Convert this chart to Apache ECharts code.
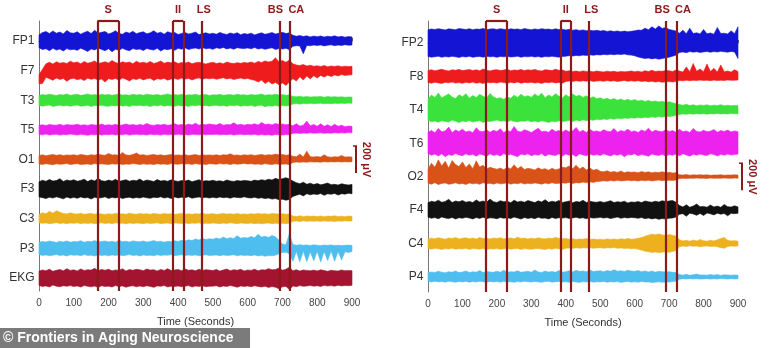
<!DOCTYPE html>
<html><head><meta charset="utf-8">
<script src="https://cdn.jsdelivr.net/npm/echarts@6/dist/echarts.min.js"></script>
<style>html,body{margin:0;background:#fff}#c{width:769px;height:348px}</style>
</head><body><div id="c"></div><script>
// Sample times (s) of the envelope points, one every 10 s
const TIME = [
  0,10,20,30,40,50,60,70,80,90,
  100,110,120,130,140,150,160,170,180,190,
  200,210,220,230,240,250,260,270,280,290,
  300,310,320,330,340,350,360,370,380,390,
  400,410,420,430,440,450,460,470,480,490,
  500,510,520,530,540,550,560,570,580,590,
  600,610,620,630,640,650,660,670,680,690,
  700,710,720,730,740,750,760,770,780,790,
  800,810,820,830,840,850,860,870,880,890,
  900];

// Event markers (s)
const EVENT_LINES = [168,230,385,415,468,691,721];
const EVENT_BRACKETS = [[168,230],[385,415]];
const EVENT_NAMES = ['S','II','LS','BS','CA'];
const EVENT_NAME_AT = [199,400,474,680,740];
const SCALE_UV = 200;

// Left hemisphere: upper / lower envelope of each trace, µV
const fp1Top = [
  45,62,70,55,74,58,66,52,78,60, 57,68,50,63,72,55,80,58,64,70,
  52,61,75,56,49,66,58,71,54,62, 68,53,60,76,57,65,50,69,59,63,
  48,56,62,51,58,66,47,55,60,52, 57,50,63,54,48,59,52,61,46,55,
  50,58,45,53,60,49,56,62,51,58, 64,55,60,42,35,40,33,38,30,36,
  32,37,29,35,31,38,30,34,28,33, 30];
const fp1Bot = [
  -50,-64,-58,-72,-55,-68,-60,-75,-57,-66, -62,-70,-54,-65,-78,-59,-67,-52,-63,-72,
  -58,-80,-61,-69,-55,-66,-73,-57,-64,-60, -71,-56,-63,-68,-54,-75,-60,-65,-58,-70,
  -55,-61,-50,-64,-57,-52,-60,-49,-58,-54, -62,-51,-56,-48,-59,-53,-61,-50,-55,-57,
  -52,-58,-49,-60,-54,-62,-56,-51,-63,-57, -60,-55,-65,-40,-35,-38,-95,-33,-36,-31,
  -34,-30,-37,-32,-29,-35,-31,-33,-28,-32, -30];
const f7Top = [
  -30,10,50,62,48,66,55,60,52,70, 58,64,50,68,55,61,72,53,59,65,
  56,74,60,52,66,58,63,51,69,57, 62,55,67,53,60,71,54,63,58,65,
  52,60,56,64,50,58,62,55,49,57, 61,53,58,50,63,56,52,59,54,60,
  57,63,55,68,60,72,64,70,95,66, 74,62,78,50,42,38,45,34,40,32,
  36,30,38,28,34,31,35,29,33,30, 32];
const f7Bot = [
  -100,-95,-50,-60,-72,-55,-66,-58,-80,-62, -57,-68,-61,-74,-56,-65,-59,-70,-63,-85,
  -60,-66,-58,-72,-55,-64,-78,-60,-67,-57, -69,-61,-56,-73,-60,-65,-58,-71,-62,-59,
  -66,-55,-63,-58,-70,-60,-54,-65,-57,-61, -56,-64,-59,-53,-62,-57,-66,-60,-55,-63,
  -58,-66,-72,-85,-70,-96,-80,-100,-88,-105, -92,-110,-85,-60,-78,-45,-70,-40,-62,-38,
  -55,-36,-48,-34,-44,-32,-40,-30,-36,-33, -31];
const t3Top = [
  36,42,38,45,40,35,43,39,46,37, 41,44,36,40,47,38,42,35,44,39,
  43,37,41,46,38,40,36,44,39,42, 37,45,40,38,43,36,41,47,39,42,
  38,44,36,41,39,45,37,40,43,35, 41,38,44,36,40,42,37,45,39,41,
  36,43,38,40,46,37,41,39,44,38, 42,36,40,28,25,30,24,27,23,26,
  25,28,22,27,24,26,23,25,22,24, 23];
const t3Bot = [
  -38,-44,-40,-36,-46,-41,-37,-43,-39,-45, -40,-36,-44,-42,-38,-47,-39,-41,-37,-43,
  -45,-39,-42,-36,-44,-40,-46,-38,-41,-37, -43,-40,-47,-38,-42,-36,-44,-39,-41,-45,
  -37,-42,-40,-46,-38,-41,-36,-43,-39,-44, -40,-37,-43,-39,-45,-38,-41,-36,-44,-40,
  -42,-38,-46,-40,-37,-48,-41,-44,-39,-45, -40,-43,-38,-28,-25,-29,-24,-27,-23,-26,
  -25,-22,-27,-24,-26,-23,-25,-22,-24,-21, -23];
const t5Top = [
  34,38,32,40,36,35,41,33,39,37, 36,42,34,38,33,40,37,35,43,34,
  38,35,41,33,37,44,36,39,34,40, 35,48,37,33,39,36,42,34,38,45,
  36,40,34,43,37,50,35,41,38,44, 39,36,47,34,40,38,52,37,42,35,
  41,38,45,36,55,39,43,37,48,40, 44,38,42,30,46,28,35,65,30,40,
  27,45,26,38,25,42,27,35,24,28, 26];
const t5Bot = [
  -33,-37,-31,-38,-35,-32,-39,-34,-36,-30, -35,-38,-33,-36,-40,-34,-37,-32,-39,-35,
  -36,-33,-38,-34,-37,-31,-39,-35,-33,-37, -34,-38,-32,-36,-35,-39,-33,-37,-34,-36,
  -32,-36,-34,-38,-33,-35,-37,-31,-36,-34, -35,-33,-37,-34,-36,-32,-38,-35,-33,-36,
  -34,-37,-33,-39,-35,-38,-36,-40,-34,-37, -38,-35,-36,-26,-24,-27,-23,-26,-22,-25,
  -24,-22,-26,-23,-25,-21,-24,-22,-23,-20, -22];
const o1Top = [
  30,35,28,33,37,31,36,29,34,32, 35,30,38,33,29,36,32,40,34,31,
  45,33,36,30,52,34,31,37,48,33, 36,30,34,38,31,35,29,33,37,32,
  34,31,36,29,33,37,30,35,32,34, 31,35,30,36,33,42,31,34,29,35,
  32,36,30,34,38,31,36,33,40,35, 37,32,35,24,20,40,18,62,21,19,
  22,18,35,20,17,21,19,30,18,20, 18];
const o1Bot = [
  -33,-37,-31,-35,-39,-32,-36,-34,-30,-38, -34,-31,-37,-35,-33,-38,-30,-36,-32,-35,
  -37,-32,-35,-31,-38,-34,-36,-30,-33,-37, -32,-36,-34,-38,-31,-35,-33,-37,-30,-34,
  -36,-31,-34,-32,-37,-30,-35,-33,-38,-31, -33,-36,-30,-34,-32,-37,-31,-35,-33,-29,
  -34,-31,-36,-33,-38,-30,-35,-37,-32,-36, -35,-33,-37,-22,-19,-21,-18,-20,-17,-19,
  -18,-20,-16,-19,-17,-18,-16,-19,-17,-18, -17];
const f3Top = [
  55,66,58,72,60,64,78,57,68,62, 70,59,65,74,56,69,61,80,63,58,
  67,60,73,57,64,70,59,66,62,75, 58,68,63,56,71,60,65,58,69,62,
  57,64,60,67,55,62,70,58,63,60, 66,59,62,56,68,61,57,64,60,65,
  62,58,67,63,70,65,74,68,80,72, 78,85,75,60,48,40,52,36,44,34,
  42,32,38,45,33,36,30,40,34,31, 35];
const f3Bot = [
  -58,-63,-70,-60,-66,-57,-64,-72,-59,-67, -61,-68,-58,-65,-62,-73,-60,-66,-64,-57,
  -69,-61,-65,-58,-70,-63,-60,-67,-62,-66, -59,-64,-68,-60,-63,-57,-66,-61,-70,-58,
  -65,-60,-63,-56,-67,-62,-58,-64,-61,-66, -60,-65,-58,-63,-61,-67,-59,-62,-64,-57,
  -63,-66,-60,-68,-64,-70,-66,-74,-70,-78, -75,-82,-76,-55,-45,-38,-50,-34,-42,-36,
  -40,-33,-46,-35,-38,-32,-44,-34,-37,-30, -35];
const c3Top = [
  32,45,38,55,42,60,48,40,36,44, 38,35,41,33,37,40,34,39,36,32,
  37,34,40,35,38,33,41,36,34,39, 35,38,33,40,36,34,39,35,37,33,
  36,40,34,37,33,38,35,41,34,36, 38,33,36,40,35,37,34,39,33,36,
  34,37,35,40,36,38,34,39,37,35, 38,34,36,20,17,22,16,21,18,20,
  17,21,16,20,18,22,17,19,16,20, 18];
const c3Bot = [
  -30,-34,-31,-36,-33,-29,-35,-32,-37,-31, -34,-30,-36,-32,-35,-31,-37,-33,-30,-35,
  -32,-36,-30,-34,-33,-37,-31,-35,-32,-34, -36,-31,-35,-33,-30,-36,-34,-32,-37,-31,
  -33,-35,-31,-36,-32,-34,-30,-37,-33,-35, -31,-34,-36,-32,-35,-30,-33,-36,-31,-34,
  -35,-32,-36,-33,-37,-34,-31,-36,-33,-35, -34,-36,-32,-18,-16,-20,-15,-19,-17,-18,
  -16,-19,-15,-18,-17,-20,-16,-18,-15,-17, -16];
const p3Top = [
  45,52,47,55,50,44,53,48,56,46, 51,49,57,45,53,50,58,47,52,55,
  48,54,46,60,50,53,47,56,51,49, 55,47,52,58,50,54,46,53,49,57,
  52,60,55,64,58,70,62,75,66,72, 68,78,70,85,72,80,74,95,76,82,
  78,88,80,105,84,90,82,96,86,60, 32,28,110,30,24,28,23,26,22,27,
  24,21,25,23,26,22,24,21,23,25, 22];
const p3Bot = [
  -46,-52,-48,-55,-50,-45,-53,-49,-56,-47, -51,-48,-54,-46,-52,-50,-57,-47,-53,-49,
  -55,-48,-52,-47,-54,-50,-46,-53,-49,-56, -48,-52,-50,-55,-47,-53,-49,-51,-46,-54,
  -50,-47,-53,-49,-52,-48,-55,-50,-47,-53, -51,-49,-54,-48,-52,-50,-47,-55,-49,-52,
  -50,-54,-48,-56,-51,-58,-53,-55,-50,-40, -30,-28,-40,-95,-22,-100,-20,-98,-24,-92,
  -21,-100,-23,-90,-20,-96,-22,-85,-24,-30, -22];
const ekgTop = [
  52,60,55,66,50,58,63,54,70,57, 61,53,68,56,62,59,72,55,64,58,
  66,54,60,57,69,52,63,58,65,61, 55,67,59,62,53,64,57,70,56,60,
  63,55,68,58,61,54,66,57,62,59, 56,64,52,60,67,55,62,58,65,53,
  60,57,66,54,62,59,70,61,64,75, 58,66,80,55,62,52,60,57,54,59,
  53,61,56,50,58,55,52,60,54,57, 55];
const ekgBot = [
  -55,-62,-58,-66,-52,-60,-64,-57,-61,-56, -63,-58,-67,-55,-61,-65,-59,-70,-57,-62,
  -60,-66,-56,-63,-58,-68,-61,-57,-65,-59, -64,-57,-62,-69,-58,-61,-55,-66,-60,-63,
  -58,-65,-60,-56,-67,-59,-62,-57,-64,-61, -60,-57,-66,-59,-63,-55,-61,-68,-58,-62,
  -59,-64,-57,-62,-66,-60,-70,-63,-68,-80, -65,-62,-85,-58,-64,-56,-61,-59,-55,-60,
  -57,-62,-54,-59,-56,-60,-53,-58,-55,-57, -54];

// Right hemisphere
const fp2Top = [
  98,104,100,106,101,97,105,102,99,107, 103,100,106,98,104,101,108,99,103,105,
  100,106,102,98,105,101,104,99,107,102, 98,104,100,106,101,103,99,105,100,102,
  97,101,95,99,93,97,91,95,90,94, 88,93,86,90,85,89,84,88,83,87,
  90,96,94,110,98,120,104,126,108,115, 100,95,88,72,95,68,110,70,76,66,
  100,68,74,65,115,70,72,67,90,69, 120];
const fp2Bot = [
  -100,-105,-102,-98,-106,-101,-104,-99,-103,-107, -101,-104,-99,-106,-102,-100,-105,-98,-103,-101,
  -106,-100,-103,-99,-104,-102,-98,-105,-101,-103, -99,-104,-101,-106,-100,-103,-98,-102,-105,-100,
  -98,-94,-97,-92,-95,-90,-93,-88,-91,-87, -89,-85,-88,-84,-87,-83,-86,-82,-88,-90,
  -95,-104,-110,-115,-112,-118,-114,-120,-116,-110, -105,-98,-90,-70,-66,-72,-64,-68,-65,-70,
  -66,-63,-69,-64,-67,-62,-65,-68,-63,-66, -115];
const f8Top = [
  44,50,42,48,53,45,40,49,46,52, 43,47,51,44,49,42,55,46,41,48,
  50,44,47,53,42,48,45,51,43,49, 46,52,44,40,50,47,43,54,45,48,
  38,42,36,40,35,41,37,39,34,40, 36,33,39,35,38,32,37,34,36,40,
  35,39,33,42,37,45,36,40,38,44, 42,36,48,40,32,70,35,96,38,55,
  34,92,36,60,33,85,35,40,32,50, 36];
const f8Bot = [
  -45,-50,-43,-48,-52,-44,-47,-41,-49,-46, -51,-44,-48,-42,-50,-46,-53,-43,-47,-45,
  -49,-42,-46,-51,-44,-48,-41,-50,-45,-47, -43,-49,-46,-52,-44,-47,-42,-48,-45,-50,
  -38,-34,-37,-32,-36,-33,-35,-31,-37,-34, -33,-36,-31,-35,-32,-37,-34,-30,-36,-33,
  -35,-32,-38,-34,-40,-36,-42,-38,-44,-40, -38,-42,-36,-30,-33,-28,-32,-29,-31,-27,
  -30,-28,-32,-27,-31,-29,-30,-26,-29,-28, -27];
const t4Top = [
  80,110,92,125,88,104,118,95,84,112, 98,120,86,106,92,115,100,88,122,96,
  84,90,78,95,86,108,92,116,98,104, 94,118,100,124,90,110,96,120,102,88,
  112,95,118,100,108,92,104,86,98,82, 90,78,86,74,84,72,80,70,78,68,
  76,65,72,62,70,60,66,58,64,55, 60,52,45,40,34,42,32,38,30,36,
  33,37,30,35,32,38,31,34,30,33, 31];
const t4Bot = [
  -78,-88,-82,-92,-80,-86,-90,-76,-84,-94, -82,-88,-79,-91,-85,-80,-93,-84,-87,-81,
  -76,-84,-80,-88,-78,-86,-90,-82,-85,-79, -88,-83,-91,-80,-86,-94,-84,-89,-81,-87,
  -83,-78,-86,-76,-82,-74,-80,-72,-78,-70, -74,-68,-72,-64,-70,-62,-66,-60,-64,-58,
  -62,-56,-60,-54,-58,-52,-56,-50,-54,-48, -50,-46,-40,-34,-30,-33,-29,-32,-28,-31,
  -29,-32,-28,-31,-27,-30,-28,-31,-27,-29, -28];
const t6Top = [
  82,95,78,110,86,92,120,80,98,88, 104,84,92,78,115,90,86,100,82,96,
  88,108,80,94,86,125,90,84,100,92, 80,96,112,86,90,82,104,88,94,84,
  98,86,92,118,84,96,80,102,88,92, 84,100,90,86,110,82,94,88,104,86,
  92,80,98,88,112,84,96,90,86,100, 88,94,82,104,86,92,80,110,88,84,
  96,86,90,102,82,94,88,98,84,92, 86];
const t6Bot = [
  -76,-88,-80,-94,-78,-100,-84,-90,-76,-86, -92,-78,-88,-82,-96,-80,-86,-98,-78,-90,
  -84,-94,-76,-88,-82,-90,-100,-80,-86,-78, -92,-84,-88,-76,-96,-82,-86,-90,-78,-94,
  -80,-88,-84,-98,-78,-86,-92,-80,-88,-84, -90,-78,-86,-94,-82,-88,-80,-100,-84,-86,
  -78,-92,-84,-88,-96,-80,-86,-90,-82,-94, -84,-88,-80,-92,-78,-86,-96,-82,-88,-80,
  -86,-90,-78,-84,-94,-82,-88,-80,-86,-84, -80];
const o2Top = [
  55,100,70,125,80,115,64,120,90,75, 110,68,95,60,118,72,85,58,70,62,
  56,64,52,70,58,88,60,76,54,62, 58,50,66,54,60,48,62,52,58,70,
  66,80,60,85,58,72,50,64,48,56, 40,36,44,34,38,32,42,30,36,33,
  35,30,38,32,36,29,34,31,37,30, 33,28,30,15,12,16,11,14,12,15,
  12,14,11,13,12,15,11,13,12,14, 12];
const o2Bot = [
  -48,-55,-44,-58,-50,-46,-56,-52,-45,-54, -50,-57,-47,-53,-49,-56,-44,-52,-48,-55,
  -46,-53,-50,-44,-55,-48,-52,-45,-54,-49, -52,-46,-50,-55,-47,-53,-44,-51,-49,-46,
  -48,-42,-50,-44,-46,-40,-45,-38,-42,-36, -34,-30,-33,-28,-32,-27,-31,-29,-26,-30,
  -28,-32,-27,-30,-26,-31,-28,-25,-29,-27, -26,-28,-24,-14,-12,-13,-11,-12,-10,-12,
  -11,-13,-10,-12,-11,-12,-10,-11,-12,-10, -11];
const f4Top = [
  55,66,60,74,58,64,80,57,68,62, 72,59,65,56,76,61,68,58,82,63,
  57,70,62,66,55,74,60,67,58,71, 64,56,69,61,78,58,66,60,72,57,
  62,68,55,64,60,73,57,66,61,58, 65,57,62,70,56,63,59,67,54,61,
  58,64,56,68,62,59,66,60,70,64, 68,72,58,35,24,40,22,30,45,25,
  28,22,38,24,30,21,42,26,23,32, 24];
const f4Bot = [
  -52,-60,-55,-64,-50,-58,-62,-54,-66,-56, -60,-53,-58,-65,-55,-61,-52,-63,-57,-59,
  -64,-54,-60,-56,-62,-51,-58,-66,-55,-61, -57,-63,-53,-60,-58,-65,-54,-61,-56,-59,
  -55,-61,-58,-52,-60,-56,-63,-54,-59,-57, -53,-59,-55,-62,-57,-51,-60,-55,-58,-54,
  -56,-60,-54,-63,-58,-65,-60,-68,-62,-66, -60,-58,-50,-30,-26,-45,-22,-28,-38,-24,
  -40,-21,-27,-35,-22,-30,-24,-42,-23,-26, -22];
const c4Top = [
  34,40,36,44,38,33,42,37,46,35, 39,43,36,41,34,45,38,40,35,42,
  37,44,35,39,42,36,48,38,41,34, 40,36,43,38,35,41,37,46,39,36,
  38,33,36,30,35,32,37,31,34,30, 33,29,35,31,34,30,36,32,38,33,
  35,40,45,55,62,70,66,72,65,60, 68,62,55,28,20,24,18,26,20,30,
  22,18,25,20,28,38,45,24,20,22, 18];
const c4Bot = [
  -36,-41,-35,-39,-43,-37,-40,-34,-42,-38, -40,-35,-43,-37,-39,-41,-36,-44,-38,-40,
  -37,-42,-39,-35,-41,-38,-36,-43,-37,-40, -42,-38,-36,-40,-44,-37,-41,-35,-39,-43,
  -35,-32,-36,-30,-34,-31,-33,-29,-35,-32, -30,-34,-31,-33,-29,-35,-32,-36,-34,-38,
  -36,-42,-48,-56,-60,-66,-62,-68,-64,-60, -65,-58,-52,-24,-18,-22,-16,-20,-18,-24,
  -20,-17,-22,-19,-24,-30,-35,-22,-18,-20, -17];
const p4Top = [
  32,38,34,42,36,31,40,35,44,33, 37,45,34,39,36,48,33,41,38,35,
  43,36,50,34,40,37,46,35,39,42, 36,52,38,34,44,37,41,35,48,36,
  40,47,38,50,42,45,39,52,41,44, 46,40,48,42,54,43,47,41,50,44,
  42,48,40,45,38,44,36,42,39,37, 40,35,33,18,14,20,13,17,22,15,
  16,13,19,14,18,12,17,15,13,16, 14];
const p4Bot = [
  -33,-37,-31,-36,-34,-38,-32,-35,-39,-33, -36,-32,-38,-34,-37,-31,-35,-39,-33,-36,
  -34,-38,-32,-36,-35,-39,-33,-37,-31,-35, -37,-33,-36,-39,-34,-32,-38,-35,-33,-37,
  -35,-38,-33,-36,-40,-34,-37,-32,-38,-35, -36,-33,-39,-35,-37,-34,-40,-36,-33,-38,
  -35,-38,-34,-37,-36,-40,-38,-35,-39,-36, -37,-34,-30,-16,-13,-15,-12,-14,-13,-15,
  -14,-12,-15,-13,-14,-11,-13,-15,-12,-14, -13];

const LEFT_NAMES = ['FP1','F7','T3','T5','O1','F3','C3','P3','EKG'];
const RIGHT_NAMES = ['FP2','F8','T4','T6','O2','F4','C4','P4'];

const BLUE='#1414d4', RED='#ee1c1c', GREEN='#3be23b', MAGENTA='#ee22ee', ORANGE='#d95319',
      BLACK='#111111', GOLD='#edb120', SKY='#4dbeee', MAROON='#a2142f', EVENT='#8b1a1a';

const panels = [
  { spacing: 220, min: -1856, max: 148,
    channels: [[fp1Top,fp1Bot,BLUE],[f7Top,f7Bot,RED],[t3Top,t3Bot,GREEN],[t5Top,t5Bot,MAGENTA],
               [o1Top,o1Bot,ORANGE],[f3Top,f3Bot,BLACK],[c3Top,c3Bot,GOLD],[p3Top,p3Bot,SKY],[ekgTop,ekgBot,MAROON]],
    names: LEFT_NAMES, scaleRow: 4, grid: {left: 39, right: 417, top: 21, bottom: 57} },
  { spacing: 248, min: -1847, max: 163,
    channels: [[fp2Top,fp2Bot,BLUE],[f8Top,f8Bot,RED],[t4Top,t4Bot,GREEN],[t6Top,t6Bot,MAGENTA],
               [o2Top,o2Bot,ORANGE],[f4Top,f4Bot,BLACK],[c4Top,c4Bot,GOLD],[p4Top,p4Bot,SKY]],
    names: RIGHT_NAMES, scaleRow: 4, grid: {left: 428, right: 31, top: 21, bottom: 56} }
];

const FONT = '"Liberation Sans", Arial, sans-serif';
const grids = [], xAxes = [], yAxes = [], series = [];

// one filled envelope per channel: upper edge left→right, lower edge right→left
function envelopeRenderer(color) {
  return function (params, api) {
    if (params.dataIndexInside !== 0) return null;
    const n = params.dataInsideLength;
    const upper = [], lower = [];
    for (let k = 0; k < n; k++) {
      upper.push(api.coord([api.value(0, k), api.value(1, k)]));
      lower.push(api.coord([api.value(0, k), api.value(2, k)]));
    }
    return {
      type: 'polygon', silent: true,
      shape: {points: upper.concat(lower.reverse())},
      style: {fill: color, stroke: color, lineWidth: 0.6}
    };
  };
}

panels.forEach((p, g) => {
  grids.push(Object.assign({containLabel: false}, p.grid));
  xAxes.push({
    type: 'value', gridIndex: g, min: 0, max: 900, interval: 100,
    axisLine: {lineStyle: {color: '#666', width: 1}},
    axisTick: {inside: true, length: 3, lineStyle: {color: '#666'}},
    axisLabel: {fontSize: 10, color: '#444', margin: 7, fontFamily: FONT},
    splitLine: {show: false},
    name: 'Time (Seconds)', nameLocation: 'middle', nameGap: 25,
    nameTextStyle: {fontSize: 11, color: '#333', fontFamily: FONT}
  });
  yAxes.push({
    type: 'value', gridIndex: g, min: p.min, max: p.max,
    axisLine: {show: true, lineStyle: {color: '#777', width: 1}},
    axisTick: {show: false}, axisLabel: {show: false}, splitLine: {show: false}
  });

  p.channels.forEach((ch, i) => {
    const [top, bot, color] = ch;
    const base = -i * p.spacing;
    series.push({
      type: 'custom', xAxisIndex: g, yAxisIndex: g, silent: true, animation: false, z: 2,
      data: TIME.map((t, k) => [t, base + top[k], base + bot[k]]),
      encode: {x: 0, y: [1, 2]},
      renderItem: envelopeRenderer(color)
    });
  });

  // event lines, brackets, event names and channel names
  series.push({
    type: 'line', xAxisIndex: g, yAxisIndex: g, data: [], silent: true, animation: false, z: 5,
    markLine: {
      symbol: 'none', silent: true, animation: false,
      label: {show: false},
      lineStyle: {color: EVENT, width: 2.2, type: 'solid'},
      data: EVENT_LINES.map(x => ({xAxis: x}))
        .concat(EVENT_BRACKETS.map(b => [{coord: [b[0], p.max]}, {coord: [b[1], p.max]}]))
    },
    markPoint: {
      symbol: 'rect', symbolSize: 1, silent: true, animation: false,
      itemStyle: {color: 'rgba(0,0,0,0)'},
      data: EVENT_NAMES.map((n, k) => ({
        name: n, coord: [EVENT_NAME_AT[k], p.max],
        label: {show: true, position: 'top', distance: 5, formatter: '{b}',
                color: EVENT, fontSize: 11, fontWeight: 'bold', fontFamily: FONT}
      })).concat(p.names.map((n, i) => ({
        name: n, coord: [0, -i * p.spacing],
        label: {show: true, position: 'left', distance: 4, formatter: '{b}',
                color: '#333', fontSize: 12, fontFamily: FONT}
      })))
    }
  });
});

const chart = echarts.init(document.getElementById('c'), null, {renderer: 'canvas'});
chart.setOption({
  backgroundColor: '#fff', animation: false,
  grid: grids, xAxis: xAxes, yAxis: yAxes, series
});

// amplitude scale bars drawn beside each panel
const graphics = [];
panels.forEach((p, g) => {
  const mid = -p.scaleRow * p.spacing;
  const a = chart.convertToPixel({gridIndex: g}, [900, mid + SCALE_UV / 2]);
  const b = chart.convertToPixel({gridIndex: g}, [900, mid - SCALE_UV / 2]);
  const x = a[0] + 4;
  graphics.push({type: 'line', shape: {x1: x, y1: a[1], x2: x, y2: b[1]},
                 style: {stroke: EVENT, lineWidth: 2}});
  graphics.push({type: 'line', shape: {x1: x - 3, y1: a[1], x2: x + 1, y2: a[1]},
                 style: {stroke: EVENT, lineWidth: 1.5}});
  graphics.push({type: 'text', x: x + 10, y: (a[1] + b[1]) / 2, rotation: -Math.PI / 2,
                 style: {text: SCALE_UV + ' μV', fill: EVENT, font: 'bold 11px ' + FONT,
                         align: 'center', verticalAlign: 'middle'}});
});
graphics.push({type: 'rect', shape: {x: 0, y: 328, width: 250, height: 20},
               style: {fill: '#7b7b7b'}});
graphics.push({type: 'text', x: 3, y: 338,
               style: {text: '© Frontiers in Aging Neuroscience', fill: '#fff',
                       font: 'bold 14px ' + FONT, verticalAlign: 'middle'}});
chart.setOption({graphic: graphics});
</script></body></html>
